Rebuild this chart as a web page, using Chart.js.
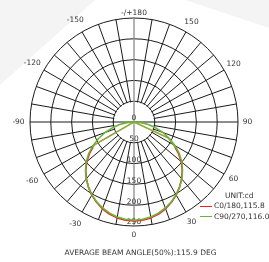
<!DOCTYPE html>
<html>
<head>
<meta charset="utf-8">
<script src="https://cdn.jsdelivr.net/npm/chart.js@4.4.1/dist/chart.umd.min.js"></script>
<style>
  html, body { margin:0; padding:0; background:#ffffff; }
  #wrap { position:relative; width:269px; height:262px; overflow:hidden; background:#ffffff; font-family:"DejaVu Sans", sans-serif; color:#333; }
  .bgL { position:absolute; left:0; top:0; width:269px; height:262px; background:#f4f4f4; clip-path:polygon(0 0, 95px 0, 0 85px); }
  .bgR { position:absolute; left:0; top:0; width:269px; height:262px; background:#f4f4f4; clip-path:polygon(185px 0, 269px 0, 269px 28px); }
  canvas { position:absolute; left:0; top:0; }
  .txt { position:absolute; font-size:7.5px; line-height:9px; white-space:nowrap; color:#333; }
  .sw { position:absolute; width:12px; height:0; border-top:1.5px solid; }
</style>
</head>
<body>
<div id="wrap">
  <div class="bgL"></div>
  <div class="bgR"></div>
  <canvas id="c" width="269" height="262"></canvas>
  <div class="txt" style="left:225px; top:191px;">UNIT:cd</div>
  <div class="sw" style="left:200px; top:206px; border-color:#ff1a1a;"></div>
  <div class="txt" style="left:214px; top:201px;">C0/180,115.8</div>
  <div class="sw" style="left:200px; top:216px; border-color:#6cb33a;"></div>
  <div class="txt" style="left:214px; top:212px;">C90/270,116.0</div>
  <div class="txt" style="left:0; width:269px; text-align:center; top:248px; padding-left:12px; box-sizing:border-box;">AVERAGE BEAM ANGLE(50%):115.9 DEG</div>
</div>
<script>
// Angle categories around the polar grid (clockwise from top), degrees
const angleLabels = [180,175,170,165,160,155,150,145,140,135,130,125,120,115,110,105,100,95,
  90,85,80,75,70,65,60,55,50,45,40,35,30,25,20,15,10,5,
  0,-5,-10,-15,-20,-25,-30,-35,-40,-45,-50,-55,-60,-65,-70,-75,-80,-85,
  -90,-95,-100,-105,-110,-115,-120,-125,-130,-135,-140,-145,-150,-155,-160,-165,-170,-175];
// Gamma angles where intensity is measured
const gammaDeg = [-90,-85,-80,-75,-70,-65,-60,-55,-50,-45,-40,-35,-30,-25,-20,-15,-10,-5,
  0,5,10,15,20,25,30,35,40,45,50,55,60,65,70,75,80,85,90];
// C0/180 plane intensities (cd)
const c0Cd = [0,0,0,0,0,0,110,130,148,164,178,191,203,213,222,229,234,237,
  238,237,234,229,222,213,203,191,178,164,148,130,110,91,0,0,0,0,0];
// C90/270 plane intensities (cd)
const c90Cd = [0,17,35,54,74,94,114,133,150,165,179,191,202,212,220,227,232,235,
  236,235,232,227,220,212,202,191,179,165,150,133,114,94,74,54,35,17,0];
// Radial tick values and angle tick labels
const ringTicks = [0,50,100,150,200,250];
const angleTicks = [180,150,120,90,60,30,0,-30,-60,-90,-120,-150];

function toRadar(vals){
  return angleLabels.map(a => { const k = gammaDeg.indexOf(a); return k >= 0 ? vals[k] : 0; });
}

const polarDecor = {
  id: 'polarDecor',
  beforeDatasetsDraw(chart) {
    const s = chart.scales.r, ctx = chart.ctx;
    const cx = s.xCenter, cy = s.yCenter;
    const r50 = s.getDistanceFromCenterForValue(ringTicks[1]);
    ctx.save();
    ctx.beginPath(); ctx.arc(cx, cy, r50 - 0.8, 0, Math.PI * 2); ctx.fillStyle = '#ffffff'; ctx.fill();
    ctx.strokeStyle = '#1a1a1a'; ctx.lineWidth = 1;
    ctx.beginPath(); ctx.moveTo(cx - r50, cy); ctx.lineTo(cx + r50, cy); ctx.stroke();
    ctx.strokeStyle = '#8a8a8a'; ctx.lineWidth = 1.3;
    ctx.beginPath(); ctx.moveTo(cx, cy - r50); ctx.lineTo(cx, cy + r50); ctx.stroke();
    ctx.font = '7.5px "DejaVu Sans"'; ctx.fillStyle = '#333'; ctx.textAlign = 'center'; ctx.textBaseline = 'middle';
    ringTicks.forEach(v => {
      const d = s.getDistanceFromCenterForValue(v);
      ctx.fillText(String(v), cx, cy + d - 3.5);
    });
    angleTicks.forEach(a => {
      const idx = angleLabels.indexOf(a);
      const txt = a === 180 ? '-/+180' : String(a);
      let gap = a < 0 ? 13.5 : 11;
      if (a === 180) gap = 5;
      if (a === 0) gap = 9;
      if (a === 90) gap = 9.5;
      if (a === -90) gap = 11.5;
      const p = s.getPointPosition(idx, s.drawingArea + gap);
      ctx.fillText(txt, p.x, p.y);
    });
    ctx.restore();
  }
};

const red = '#ff1a1a', olive = '#9aa53a';
// red line appears olive where it is blended near the centre cut-off
function c0Stroke(c) {
  const s = c.chart.scales && c.chart.scales.r;
  if (!s || !isFinite(s.xCenter) || !s.drawingArea) return red;
  const r = s.getDistanceFromCenterForValue(116);
  const g = c.chart.ctx.createRadialGradient(s.xCenter, s.yCenter, 0, s.xCenter, s.yCenter, s.drawingArea);
  const f = r / s.drawingArea;
  g.addColorStop(0, olive); g.addColorStop(f, olive); g.addColorStop(Math.min(1, f + 0.001), red); g.addColorStop(1, red);
  return g;
}

new Chart(document.getElementById('c'), {
  type: 'radar',
  data: {
    labels: angleLabels,
    datasets: [
      { label: 'C90/270', data: toRadar(c90Cd), borderColor: '#6cb33a', borderWidth: 1.6, pointRadius: 0, fill: false, tension: 0 },
      { label: 'C0/180', data: toRadar(c0Cd), borderColor: c0Stroke, borderWidth: 1.6, pointRadius: 0, fill: false, tension: 0 }
    ]
  },
  options: {
    responsive: false,
    animation: false,
    devicePixelRatio: 1,
    layout: { padding: { left: 30, right: 30, top: 18, bottom: 36 } },
    plugins: { legend: { display: false }, tooltip: { enabled: false } },
    elements: { line: { borderJoinStyle: 'round' } },
    scales: {
      r: {
        min: 0, max: 250,
        startAngle: 0,
        ticks: { display: false, stepSize: 50 },
        pointLabels: { display: false },
        grid: { circular: true, color: '#1a1a1a', lineWidth: 1 },
        angleLines: {
          color: (c) => c.index % 2 ? 'rgba(0,0,0,0)' : (c.index % 36 === 0 ? '#8a8a8a' : '#1a1a1a'),
          lineWidth: (c) => c.index % 36 === 0 ? 1.3 : 1
        }
      }
    }
  },
  plugins: [polarDecor]
});
</script>
</body>
</html>
